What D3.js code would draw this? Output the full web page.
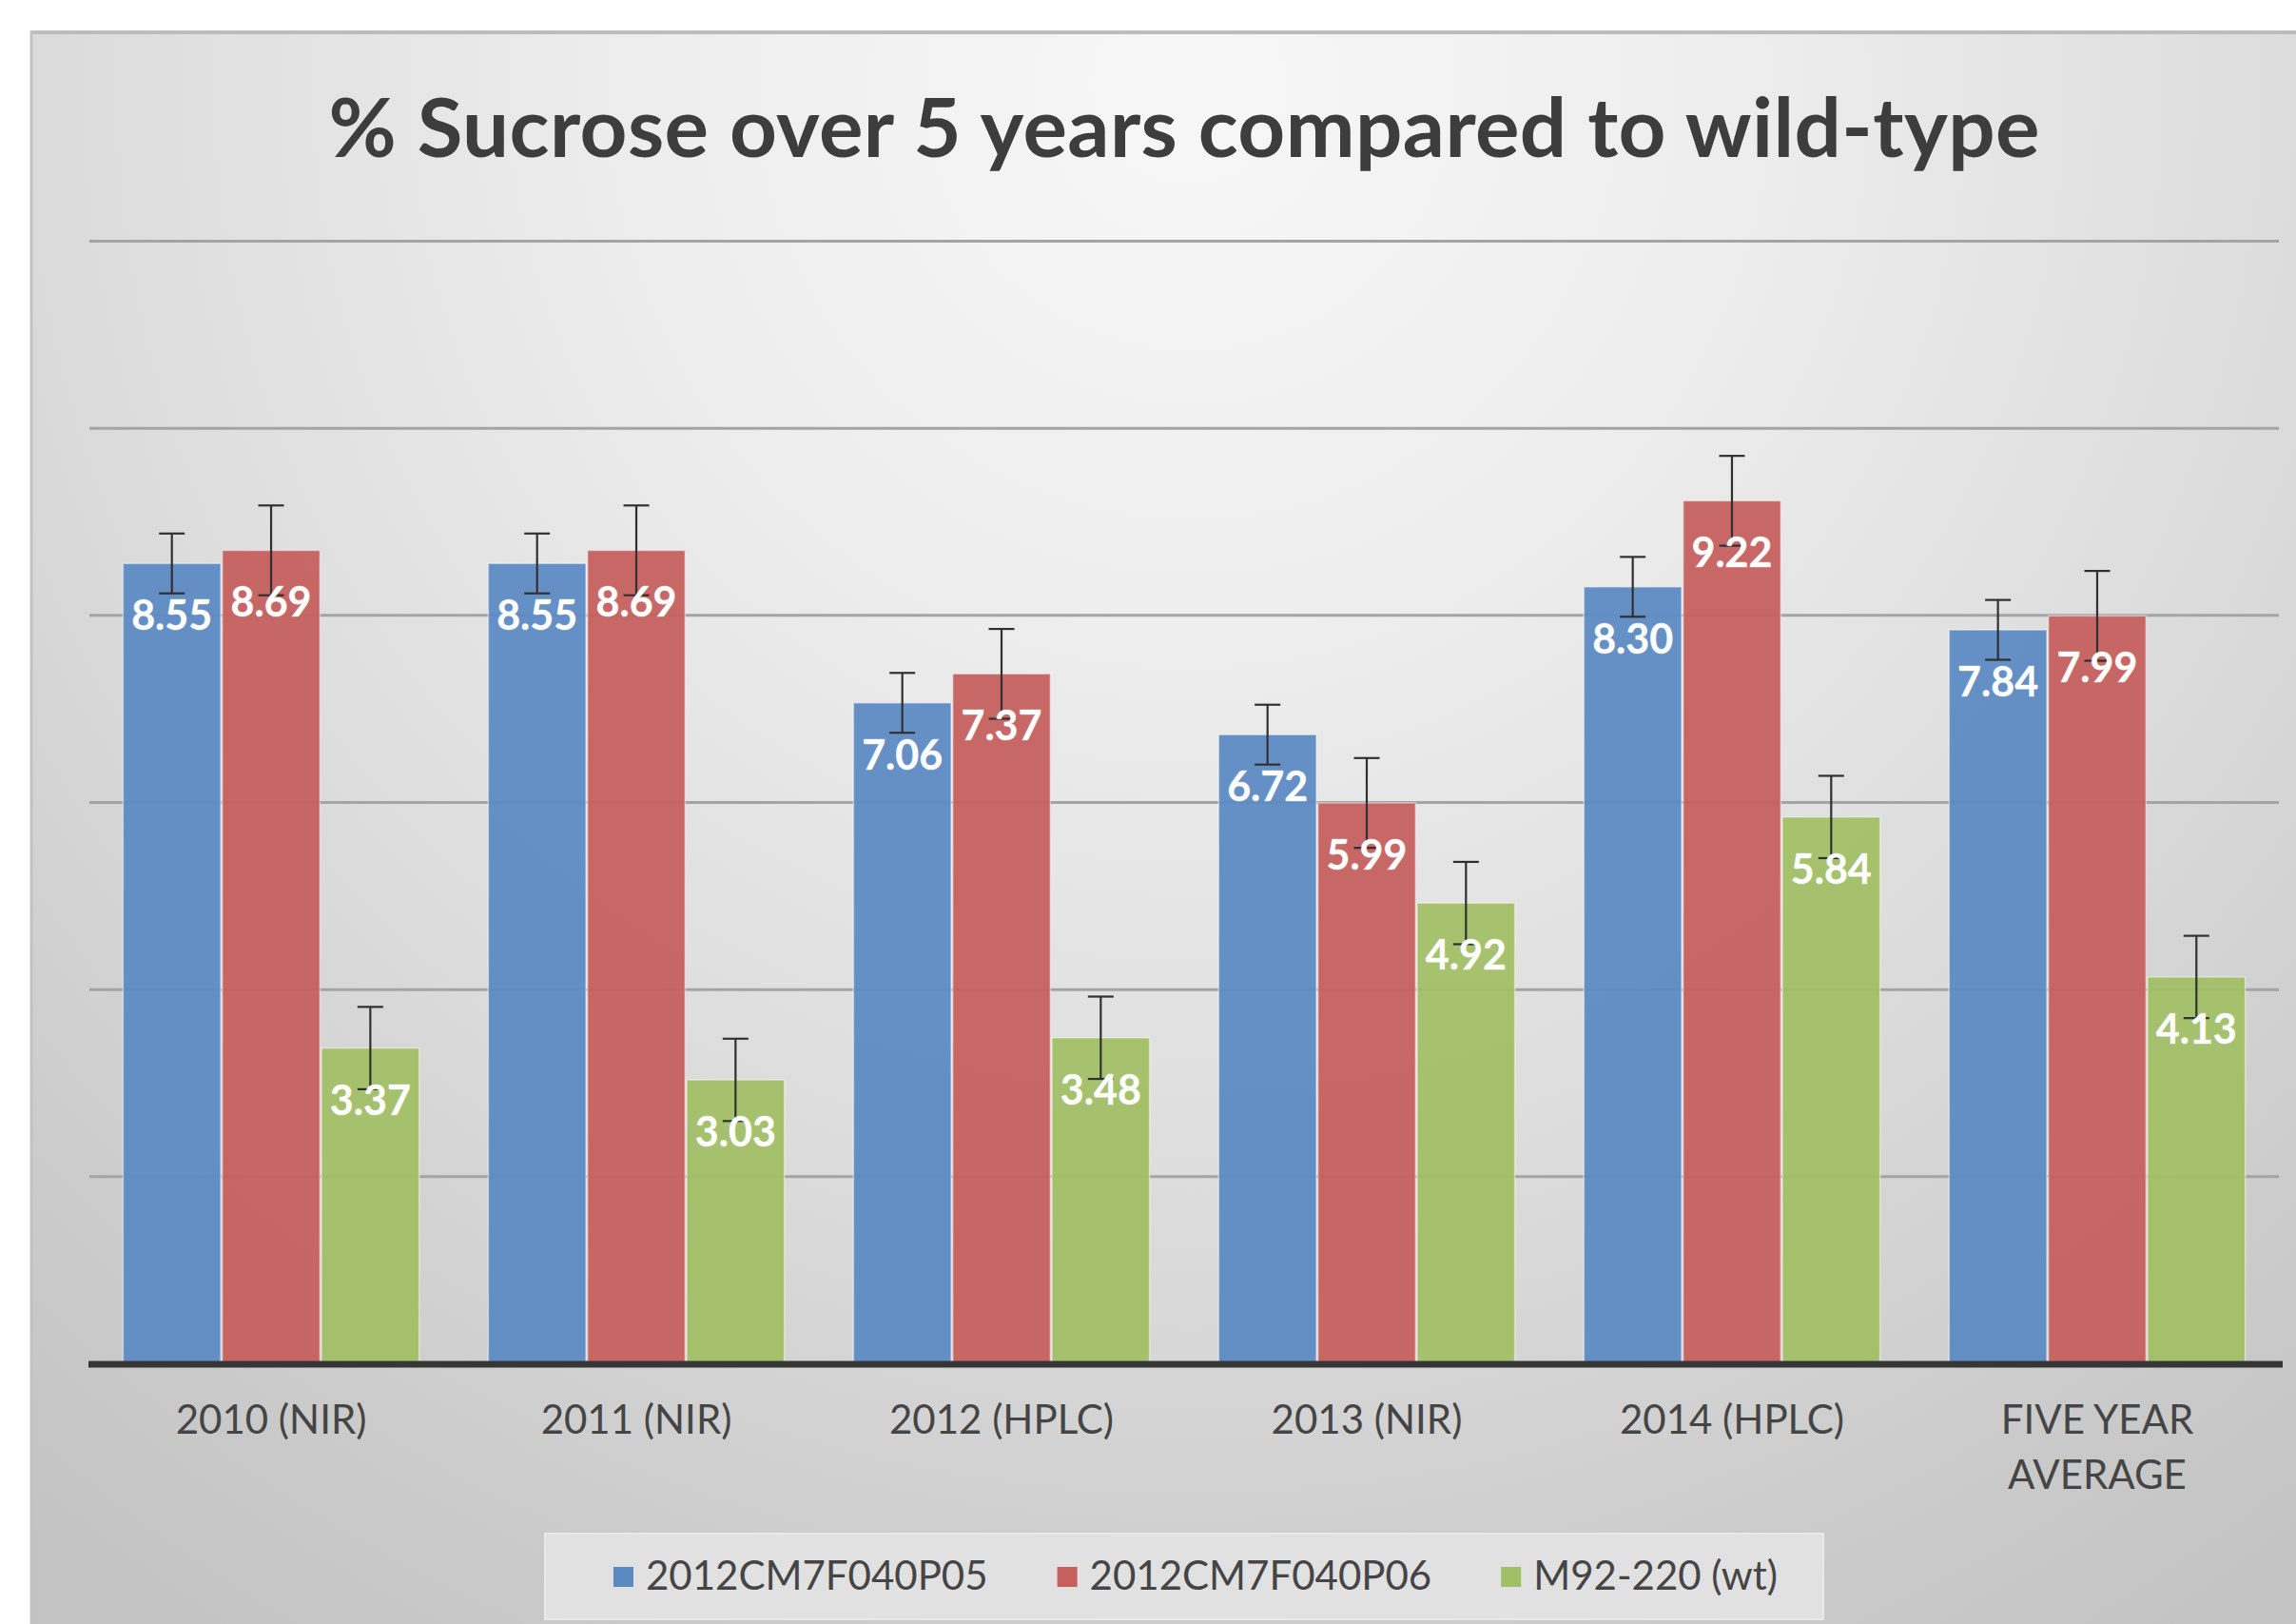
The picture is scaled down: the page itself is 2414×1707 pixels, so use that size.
<!DOCTYPE html>
<html>
<head>
<meta charset="utf-8">
<script src="https://cdn.jsdelivr.net/npm/d3@7"></script>
<style>
  html, body { margin: 0; padding: 0; background: #ffffff; }
  svg { display: block; }
</style>
</head>
<body>
<svg id="chart" width="2414" height="1707"></svg>
<script>
// Sucrose content (%) per trial year, two transgenic lines vs. wild type
const categories = ["2010 (NIR)", "2011 (NIR)", "2012 (HPLC)", "2013 (NIR)", "2014 (HPLC)", "FIVE YEAR\nAVERAGE"];
const seriesNames = ["2012CM7F040P05", "2012CM7F040P06", "M92-220 (wt)"];
const valuesP05 = [8.55, 8.55, 7.06, 6.72, 8.30, 7.84];
const valuesP06 = [8.69, 8.69, 7.37, 5.99, 9.22, 7.99];
const valuesWT  = [3.37, 3.03, 3.48, 4.92, 5.84, 4.13];
const errorP05 = [0.32, 0.32, 0.32, 0.32, 0.32, 0.32];
const errorP06 = [0.48, 0.48, 0.48, 0.48, 0.48, 0.48];
const errorWT  = [0.44, 0.44, 0.44, 0.44, 0.44, 0.44];
const yTicks = [0, 2, 4, 6, 8, 10, 12];
const seriesColors = ["#5b8ac3", "#c5605e", "#a1bf66"];

const allValues = [valuesP05, valuesP06, valuesWT];
const allErrors = [errorP05, errorP06, errorWT];

const W = 2414, H = 1707;
const plotLeft = 94, plotRight = 2396;
const svg = d3.select("#chart");
const FONT = "Lato, 'Open Sans', 'DejaVu Sans', sans-serif";

// ---- background panel with soft radial shading
const defs = svg.append("defs");
const rg = defs.append("radialGradient")
  .attr("id", "panelShade")
  .attr("gradientUnits", "userSpaceOnUse")
  .attr("cx", 1250).attr("cy", 90).attr("r", 1950);
rg.append("stop").attr("offset", 0).attr("stop-color", "#f7f7f7");
rg.append("stop").attr("offset", 0.3).attr("stop-color", "#ededed");
rg.append("stop").attr("offset", 0.6).attr("stop-color", "#dcdcdc");
rg.append("stop").attr("offset", 0.85).attr("stop-color", "#cbcbcb");
rg.append("stop").attr("offset", 1).attr("stop-color", "#c3c3c3");

svg.append("rect").attr("x", 0).attr("y", 0).attr("width", W).attr("height", H).attr("fill", "#ffffff");
svg.append("rect")
  .attr("x", 32).attr("y", 32).attr("width", W - 32 + 20).attr("height", H - 32 + 20)
  .attr("fill", "url(#panelShade)");
svg.append("line").attr("x1", 32).attr("x2", W).attr("y1", 34).attr("y2", 34)
  .attr("stroke", "#bcbcbc").attr("stroke-width", 4);
svg.append("line").attr("x1", 33).attr("x2", 33).attr("y1", 32).attr("y2", H)
  .attr("stroke", "#c2c2c2").attr("stroke-width", 3);

// ---- title
svg.append("text")
  .attr("x", 1245).attr("y", 165)
  .attr("text-anchor", "middle")
  .attr("font-family", FONT)
  .attr("font-weight", 700)
  .attr("font-size", 87)
  .attr("fill", "#3d3d3d")
  .attr("textLength", 1799)
  .text("% Sucrose over 5 years compared to wild-type");

// ---- scales
const x0 = d3.scaleBand().domain(categories).range([plotLeft, plotRight])
  .paddingInner(0.185).paddingOuter(0.09);
const x1 = d3.scaleBand().domain(seriesNames).range([0, x0.bandwidth()]);
const y = d3.scaleLinear().domain([0, 12]).range([1433, 253]);

// ---- horizontal gridlines
const grid = svg.append("g")
  .attr("transform", `translate(${plotLeft},0)`)
  .call(d3.axisLeft(y).tickValues(yTicks.slice(1)).tickSize(-(plotRight - plotLeft)).tickFormat(""));
grid.select(".domain").remove();
grid.selectAll(".tick line").attr("stroke", "#a4a4a4").attr("stroke-width", 3);

// ---- bars
const rows = categories.map((c, i) => ({
  cat: c,
  bars: seriesNames.map((s, j) => ({ s, j, v: allValues[j][i], e: allErrors[j][i] }))
}));

const groups = svg.append("g").selectAll("g.grp")
  .data(rows).join("g")
  .attr("class", "grp")
  .attr("transform", d => `translate(${x0(d.cat)},0)`);

groups.selectAll("rect.bar")
  .data(d => d.bars).join("rect")
  .attr("class", "bar")
  .attr("x", d => x1(d.s) + 0.8)
  .attr("width", x1.bandwidth() - 1.6)
  .attr("y", d => y(d.v))
  .attr("height", d => y(0) - y(d.v))
  .attr("fill", d => seriesColors[d.j])
  .attr("fill-opacity", 0.94)
  .attr("stroke", "#ffffff")
  .attr("stroke-opacity", 0.45)
  .attr("stroke-width", 1.6);

// ---- error bars
const capHalf = 13.5;
const eb = groups.selectAll("g.err")
  .data(d => d.bars).join("g")
  .attr("class", "err")
  .attr("stroke", "#303030")
  .attr("stroke-width", 2.2);
eb.append("line")
  .attr("x1", d => x1(d.s) + x1.bandwidth() / 2)
  .attr("x2", d => x1(d.s) + x1.bandwidth() / 2)
  .attr("y1", d => y(d.v + d.e))
  .attr("y2", d => y(d.v - d.e));
eb.append("line")
  .attr("x1", d => x1(d.s) + x1.bandwidth() / 2 - capHalf)
  .attr("x2", d => x1(d.s) + x1.bandwidth() / 2 + capHalf)
  .attr("y1", d => y(d.v + d.e))
  .attr("y2", d => y(d.v + d.e));
eb.append("line")
  .attr("x1", d => x1(d.s) + x1.bandwidth() / 2 - capHalf)
  .attr("x2", d => x1(d.s) + x1.bandwidth() / 2 + capHalf)
  .attr("y1", d => y(d.v - d.e))
  .attr("y2", d => y(d.v - d.e));

// ---- value labels inside bar tops
groups.selectAll("text.val")
  .data(d => d.bars).join("text")
  .attr("class", "val")
  .attr("x", d => x1(d.s) + x1.bandwidth() / 2)
  .attr("y", d => y(d.v) + 70)
  .attr("text-anchor", "middle")
  .attr("font-family", FONT)
  .attr("font-weight", 700)
  .attr("font-size", 43)
  .attr("fill", "#ffffff")
  .attr("stroke", "rgba(255,255,255,0.35)")
  .attr("stroke-width", 1)
  .text(d => d.v.toFixed(2));

// ---- category axis
svg.append("line")
  .attr("x1", plotLeft - 1).attr("x2", plotRight + 4)
  .attr("y1", y(0) + 1).attr("y2", y(0) + 1)
  .attr("stroke", "#363636").attr("stroke-width", 7);

const xAxis = svg.append("g")
  .attr("transform", `translate(0,${y(0)})`)
  .call(d3.axisBottom(x0).tickSize(0).tickFormat(""));
xAxis.select(".domain").remove();
xAxis.selectAll(".tick").each(function (d) {
  const t = d3.select(this).append("text")
    .attr("text-anchor", "middle")
    .attr("font-family", FONT)
    .attr("font-size", 42)
    .attr("fill", "#454545");
  d.split("\n").forEach((line, k) => {
    t.append("tspan").attr("x", 0).attr("y", 74 + k * 58).text(line);
  });
});

// ---- legend
svg.append("rect")
  .attr("x", 573).attr("y", 1612).attr("width", 1344).attr("height", 90)
  .attr("fill", "#e1e1e1").attr("stroke", "#e9e9e9").attr("stroke-width", 2);

const legend = svg.append("g");
let lx = 0;
seriesNames.forEach((name, j) => {
  const item = legend.append("g").attr("transform", `translate(${lx},0)`);
  item.append("rect").attr("x", 0).attr("y", -24).attr("width", 21).attr("height", 21)
    .attr("fill", seriesColors[j]);
  const tx = item.append("text").attr("x", 34).attr("y", 0)
    .attr("font-family", FONT).attr("font-size", 42).attr("fill", "#454545")
    .text(name);
  lx += 34 + tx.node().getComputedTextLength() + 73;
});
const legendWidth = lx - 73;
legend.attr("transform", `translate(${1257 - legendWidth / 2},1671)`);
</script>
</body>
</html>
